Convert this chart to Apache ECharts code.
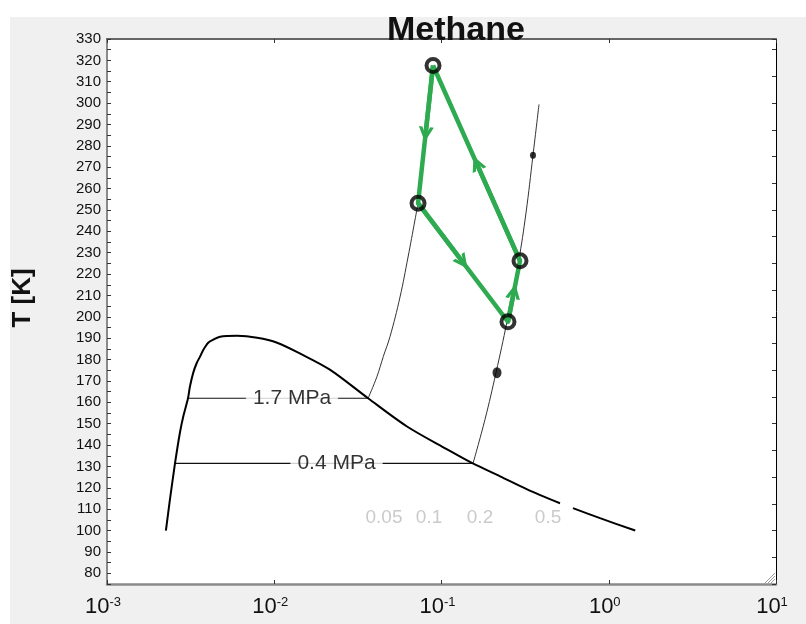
<!DOCTYPE html>
<html>
<head>
<meta charset="utf-8">
<script src="https://cdn.jsdelivr.net/npm/echarts@6/dist/echarts.min.js"></script>
<style>
  html, body { margin: 0; padding: 0; background: #fff; }
  #bg { position: absolute; left: 10px; top: 17px; width: 796px; height: 607px; background: #f0f0f0; }
  #chart { position: absolute; left: 0; top: 0; width: 806px; height: 624px; }
</style>
</head>
<body>
<div id="bg"></div>
<div id="chart"></div>
<script>
// saturation dome: liquid branch -> critical region -> vapour branch (null = gap in the curve)
const domeV = [0.00225, 0.00238, 0.00255, 0.00273, 0.00286, 0.00305, 0.003135, 0.00328, 0.00344, 0.0036,
  0.00377, 0.00403, 0.00432, 0.00474, 0.0060,
  0.0079, 0.0104, 0.0143, 0.0215, 0.0364, 0.0622, 0.108, 0.154, 0.224, 0.325, 0.511, null, 0.611, 0.887, 1.44]
const domeT = [100, 114.7, 131.4, 145.9, 153.5, 161.9, 167.5, 173.9, 178.4, 181.4,
  184.6, 187.9, 189.3, 190.7, 191.1,
  190.2, 187.9, 182.8, 175.3, 161.9, 148.7, 138.0, 131.4, 125.4, 119.3, 112.8, null, 110.5, 105.8, 100]

// isobars inside the dome
const isoLabels = ['1.7 MPa', '0.4 MPa']
const isoT = [161.9, 131.4]
const isoLiqV = [0.00305, 0.00255]
const isoVapV = [0.0364, 0.1543]
const isoLabelV = [0.01277, 0.02357]

// superheated parts of the isobars
const iso17V = [0.0364, 0.0411, 0.0449, 0.0492, 0.0565, 0.0631, 0.0694, 0.0724]
const iso17T = [161.9, 172.0, 181.5, 190.7, 209.3, 228.0, 245.3, 253.2]
const iso04V = [0.1543, 0.182, 0.2118, 0.2463, 0.2887, 0.320, 0.3524, 0.3828]
const iso04T = [131.4, 152.0, 173.9, 197.7, 225.7, 248.6, 275.6, 299.4]

// cycle states 1..4 (green loop, in order)
const cycV = [0.0890, 0.0724, 0.2497, 0.2947]
const cycT = [317.6, 253.2, 197.7, 226.2]

// filled dots on the 0.4 MPa isobar
const dotV = [0.2147, 0.3524]
const dotT = [173.9, 275.6]
const dotSize = [[9, 11], [6, 7]]

// quality labels
const qualLabels = ['0.05', '0.1', '0.2', '0.5']
const qualV = [0.0453, 0.0842, 0.1699, 0.4334]
const qualT = 105.8

const FONT = '"Liberation Sans", Arial, sans-serif'
const GREEN = '#2eaa50'

const zip = (xs, ys) => xs.map((x, i) => (x === null ? null : [x, ys[i]]))

const chart = echarts.init(document.getElementById('chart'))

const loop = zip(cycV, cycT)
loop.push(loop[0])

// half segments ending at the log-midpoint, carrying the direction arrows
const arrowSegs = []
for (let i = 0; i < 4; i++) {
  const a = loop[i], b = loop[i + 1]
  const mid = [Math.sqrt(a[0] * b[0]), (a[1] + b[1]) / 2]
  arrowSegs.push({ coords: [a, mid] })
}

const option = {
  animation: false,
  grid: { left: 107, top: 39, right: 30, bottom: 40, show: true, backgroundColor: '#fff', borderWidth: 0 },
  xAxis: [
    {
      type: 'log', logBase: 10, min: 0.001, max: 10, position: 'bottom',
      axisLine: { lineStyle: { color: '#8a8a8a', width: 2.5 } },
      axisTick: { inside: true, length: 4, lineStyle: { color: '#333' } },
      splitLine: { show: false },
      axisLabel: {
        margin: 12,
        padding: [0, 8, 0, 0],
        formatter: v => '{b|10}{e|' + Math.round(Math.log10(v)) + '}',
        rich: {
          b: { fontSize: 22, color: '#111', fontFamily: FONT },
          e: { fontSize: 13, color: '#111', fontFamily: FONT, verticalAlign: 'top' }
        }
      }
    },
    {
      type: 'log', logBase: 10, min: 0.001, max: 10, position: 'top',
      axisLine: { lineStyle: { color: '#666', width: 2 } },
      axisTick: { inside: true, length: 4, lineStyle: { color: '#333' } },
      splitLine: { show: false },
      axisLabel: { show: false }
    }
  ],
  yAxis: [
    {
      type: 'value', min: 75, max: 330, interval: 5, position: 'left',
      axisLine: { show: true, lineStyle: { color: '#8a8a8a', width: 2 } },
      axisTick: { show: true, inside: true, length: 4, lineStyle: { color: '#333' } },
      splitLine: { show: false },
      axisLabel: {
        margin: 6, fontSize: 15, color: '#111', fontFamily: FONT,
        formatter: v => (v % 10 === 0 ? String(v) : '')
      }
    },
    {
      type: 'value', min: 0, max: 20.4, interval: 1, position: 'right',
      axisLine: { show: true, lineStyle: { color: '#000', width: 1 } },
      axisTick: { show: true, inside: true, length: 4, lineStyle: { color: '#333' } },
      splitLine: { show: false },
      axisLabel: { show: false }
    }
  ],
  graphic: [
    {
      type: 'text', x: 456, y: 31, z: 100,
      style: { text: 'Methane', font: 'bold 34px ' + FONT, fill: '#111', textAlign: 'center', textVerticalAlign: 'middle' }
    },
    {
      type: 'text', x: 23, y: 298, rotation: Math.PI / 2, z: 100,
      style: { text: 'T [K]', font: 'bold 26px ' + FONT, fill: '#111', textAlign: 'center', textVerticalAlign: 'middle' }
    },
    {
      type: 'group', z: 100,
      children: [0, 3, 6].map(d => ({
        type: 'line',
        shape: { x1: 765 + d, y1: 583, x2: 775, y2: 573 + d },
        style: { stroke: '#9a9a9a', lineWidth: 1 }
      }))
    }
  ],
  series: [
    {
      type: 'line', name: 'dome', data: zip(domeV, domeT), showSymbol: false, smooth: 0.3,
      connectNulls: false, lineStyle: { color: '#000', width: 2 }, z: 3
    },
    ...isoLabels.map((n, i) => ({
      type: 'line', name: n, data: [[isoLiqV[i], isoT[i]], [isoVapV[i], isoT[i]]], showSymbol: false,
      lineStyle: { color: '#111', width: 1.2 }, z: 2
    })),
    {
      type: 'line', name: '1.7 MPa vapour', data: zip(iso17V, iso17T), showSymbol: false, smooth: 0.4,
      lineStyle: { color: '#333', width: 1 }, z: 2
    },
    {
      type: 'line', name: '0.4 MPa vapour', data: zip(iso04V, iso04T), showSymbol: false, smooth: 0.4,
      lineStyle: { color: '#333', width: 1 }, z: 2
    },
    {
      type: 'scatter', name: 'isobar labels', symbolSize: 1, itemStyle: { color: 'rgba(0,0,0,0)' },
      data: isoLabels.map((n, i) => ({ value: [isoLabelV[i], isoT[i]], name: n })),
      label: {
        show: true, position: 'inside', formatter: p => p.name, fontSize: 21, color: '#000', fontFamily: FONT,
        backgroundColor: '#fff', padding: [2, 7]
      },
      z: 4
    },
    {
      type: 'scatter', name: 'quality', symbolSize: 1, itemStyle: { color: 'rgba(0,0,0,0)' },
      data: qualLabels.map((n, i) => ({ value: [qualV[i], qualT], name: n })),
      label: { show: true, position: 'inside', formatter: p => p.name, fontSize: 19, color: '#bdbdbd', fontFamily: FONT },
      z: 4
    },
    {
      type: 'line', name: 'cycle', data: loop, showSymbol: false,
      lineStyle: { color: GREEN, width: 4.5, join: 'round' }, z: 5
    },
    {
      type: 'lines', coordinateSystem: 'cartesian2d', data: arrowSegs,
      symbol: ['none', 'path://M0,10 L5,0 L10,10 L7.6,10 L5,4.2 L2.4,10 Z'], symbolSize: 15,
      lineStyle: { color: GREEN, width: 4.5, opacity: 1 }, z: 6
    },
    {
      type: 'scatter', name: 'states', data: loop.slice(0, 4), symbol: 'circle', symbolSize: 13,
      itemStyle: { color: 'rgba(0,0,0,0)', borderColor: '#000', borderWidth: 4 }, z: 7
    },
    {
      type: 'scatter', name: 'dots', data: zip(dotV, dotT), symbol: 'circle',
      symbolSize: (v, p) => dotSize[p.dataIndex],
      itemStyle: { color: '#000' }, z: 7
    }
  ]
}

chart.setOption(option)
</script>
</body>
</html>
